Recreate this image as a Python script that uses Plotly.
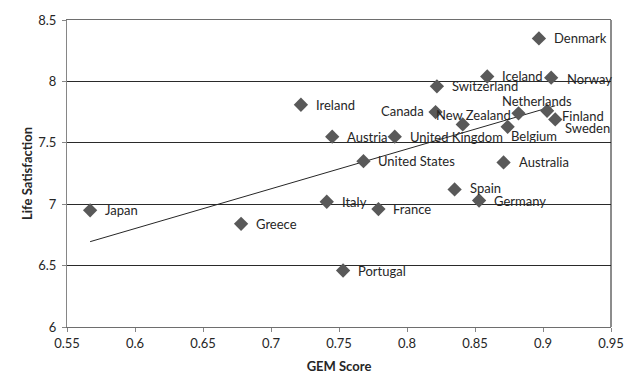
import numpy as np
import plotly.graph_objects as go

countries = ["Denmark", "Iceland", "Norway", "Switzerland", "Ireland", "Canada",
             "New Zealand", "Netherlands", "Finland", "Sweden", "Belgium", "Austria",
             "United Kingdom", "United States", "Australia", "Spain", "Germany",
             "Italy", "France", "Japan", "Greece", "Portugal"]
gem_score = [0.897, 0.859, 0.906, 0.822, 0.722, 0.821,
             0.841, 0.882, 0.903, 0.909, 0.874, 0.745,
             0.791, 0.768, 0.871, 0.835, 0.853,
             0.741, 0.779, 0.567, 0.678, 0.753]
life_satisfaction = [8.35, 8.04, 8.03, 7.96, 7.81, 7.75,
                     7.65, 7.74, 7.76, 7.69, 7.63, 7.55,
                     7.55, 7.35, 7.34, 7.12, 7.03,
                     7.02, 6.96, 6.95, 6.84, 6.46]
x_ticks = [0.55, 0.6, 0.65, 0.7, 0.75, 0.8, 0.85, 0.9, 0.95]
y_ticks = [6, 6.5, 7, 7.5, 8, 8.5]

# label placement (style only): anchor, x shift px, y shift px
DEFAULT_LABEL = ("left", 13, 0)
LABEL_STYLE = {
    "Canada": ("right", -10, 1),
    "New Zealand": ("center", 11, 9),
    "Netherlands": ("center", 18, 12),
    "Finland": ("left", 13, -5),
    "Sweden": ("left", 8, -9),
    "Belgium": ("left", 1, -9),
    "Norway": ("left", 14, -1),
    "Spain": ("left", 13, 1),
}

slope, intercept = np.polyfit(gem_score, life_satisfaction, 1)
trend_x = [min(gem_score), max(gem_score)]
trend_y = [slope * v + intercept for v in trend_x]

FONT = "Lato, 'Open Sans', sans-serif"
TXT = "#262626"

fig = go.Figure()
fig.add_trace(go.Scatter(
    x=trend_x, y=trend_y, mode="lines",
    line=dict(color="#262626", width=1), hoverinfo="skip", showlegend=False))
fig.add_trace(go.Scatter(
    x=gem_score, y=life_satisfaction, mode="markers",
    marker=dict(symbol="diamond", size=11, color="#595959"),
    hovertext=countries, showlegend=False))

annotations = []
for name, gx, ly in zip(countries, gem_score, life_satisfaction):
    anchor, dx, dy = LABEL_STYLE.get(name, DEFAULT_LABEL)
    annotations.append(dict(
        x=gx, y=ly, xref="x", yref="y", text=name, showarrow=False,
        xanchor=anchor, yanchor="middle", xshift=dx, yshift=dy,
        font=dict(family=FONT, size=13, color=TXT)))

fig.update_layout(
    width=639, height=391,
    margin=dict(l=59, r=36, t=12, b=72, autoexpand=False),
    paper_bgcolor="white", plot_bgcolor="white",
    font=dict(family=FONT, size=13, color=TXT),
    annotations=annotations,
    xaxis=dict(
        range=[0.55, 0.95], tickvals=x_ticks, ticktext=[f"{v:g}" for v in x_ticks],
        showgrid=False, zeroline=False, automargin=False,
        showline=True, mirror=True, linecolor="#6e6e6e", linewidth=1,
        ticks="outside", ticklen=4, tickcolor="#868686",
        title=dict(text="<b>GEM Score</b>", font=dict(size=13), standoff=12),
    ),
    yaxis=dict(
        range=[6, 8.5], tickvals=y_ticks, ticktext=[f"{v:g}" for v in y_ticks],
        showgrid=True, gridcolor="#2a2a2a", gridwidth=1, zeroline=False, automargin=False,
        showline=True, linecolor="#868686", linewidth=1,
        ticks="outside", ticklen=4, tickcolor="#868686", ticklabelstandoff=3,
        title=dict(text="<b>Life Satisfaction</b>", font=dict(size=13), standoff=2),
    ),
    shapes=[
        dict(type="line", xref="paper", yref="paper", x0=1, x1=1, y0=0, y1=1,
             line=dict(color="#1a1a1a", width=1)),
    ],
)

fig.write_html("out.html", config={"displayModeBar": False})
